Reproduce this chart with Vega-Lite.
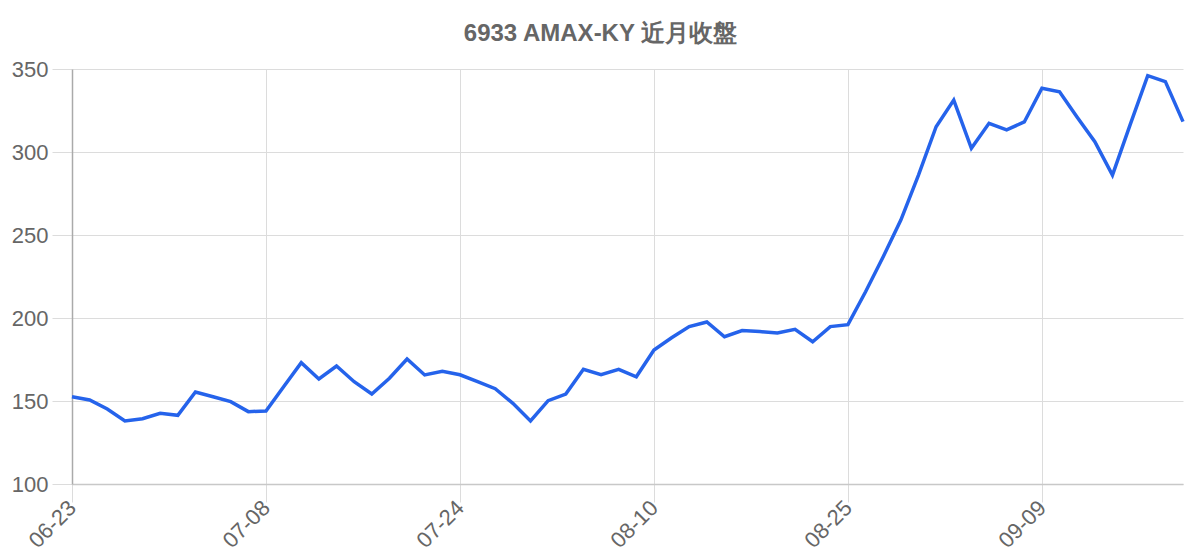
{
  "$schema": "https://vega.github.io/schema/vega-lite/v6.json",
  "width": 1111,
  "height": 415,
  "autosize": "none",
  "padding": {"left": 72, "top": 69, "right": 17, "bottom": 76},
  "background": "white",
  "title": {
    "text": "6933 AMAX-KY 近月收盤",
    "font": "Liberation Sans",
    "fontSize": 24,
    "fontWeight": "bold",
    "color": "#666666",
    "anchor": "middle",
    "frame": "group",
    "dx": -27,
    "offset": 12
  },
  "data": {
    "values": [
      {"date": "06-23", "close": 152.6},
      {"date": "06-24", "close": 150.6},
      {"date": "06-25", "close": 145.2},
      {"date": "06-26", "close": 138.0},
      {"date": "06-27", "close": 139.3},
      {"date": "06-30", "close": 142.6},
      {"date": "07-01", "close": 141.4},
      {"date": "07-02", "close": 155.4},
      {"date": "07-03", "close": 152.6},
      {"date": "07-04", "close": 149.6},
      {"date": "07-07", "close": 143.6},
      {"date": "07-08", "close": 144.0},
      {"date": "07-09", "close": 158.6},
      {"date": "07-10", "close": 173.1},
      {"date": "07-11", "close": 163.3},
      {"date": "07-14", "close": 171.1},
      {"date": "07-15", "close": 161.6},
      {"date": "07-17", "close": 154.2},
      {"date": "07-18", "close": 163.7},
      {"date": "07-21", "close": 175.3},
      {"date": "07-22", "close": 165.7},
      {"date": "07-23", "close": 167.9},
      {"date": "07-24", "close": 165.8},
      {"date": "07-25", "close": 161.6},
      {"date": "07-28", "close": 157.4},
      {"date": "07-29", "close": 148.6},
      {"date": "07-30", "close": 138.0},
      {"date": "07-31", "close": 150.2},
      {"date": "08-01", "close": 154.2},
      {"date": "08-04", "close": 169.1},
      {"date": "08-05", "close": 165.8},
      {"date": "08-06", "close": 169.1},
      {"date": "08-07", "close": 164.6},
      {"date": "08-10", "close": 180.7},
      {"date": "08-11", "close": 188.1},
      {"date": "08-12", "close": 194.8},
      {"date": "08-13", "close": 197.6},
      {"date": "08-14", "close": 188.7},
      {"date": "08-15", "close": 192.4},
      {"date": "08-18", "close": 191.8},
      {"date": "08-19", "close": 191.0},
      {"date": "08-20", "close": 193.2},
      {"date": "08-21", "close": 185.7},
      {"date": "08-22", "close": 194.8},
      {"date": "08-25", "close": 196.0},
      {"date": "08-26", "close": 215.8},
      {"date": "08-27", "close": 236.9},
      {"date": "08-28", "close": 259.0},
      {"date": "08-29", "close": 286.1},
      {"date": "09-01", "close": 315.2},
      {"date": "09-02", "close": 331.3},
      {"date": "09-03", "close": 302.2},
      {"date": "09-04", "close": 317.3},
      {"date": "09-05", "close": 313.3},
      {"date": "09-08", "close": 318.1},
      {"date": "09-09", "close": 338.4},
      {"date": "09-10", "close": 336.3},
      {"date": "09-11", "close": 320.9},
      {"date": "09-12", "close": 306.2},
      {"date": "09-15", "close": 286.1},
      {"date": "09-16", "close": 316.3},
      {"date": "09-17", "close": 346.0},
      {"date": "09-18", "close": 342.4},
      {"date": "09-19", "close": 318.3}
    ]
  },
  "mark": {
    "type": "line",
    "color": "#2563eb",
    "strokeWidth": 3.5,
    "strokeJoin": "miter"
  },
  "encoding": {
    "x": {
      "field": "date",
      "type": "ordinal",
      "sort": null,
      "scale": {"type": "point", "padding": 0},
      "axis": {
        "title": null,
        "values": ["06-23", "07-08", "07-24", "08-10", "08-25", "09-09"],
        "labelAngle": -45,
        "labelAlign": "right",
        "labelBaseline": "middle",
        "labelFont": "Liberation Sans",
        "labelFontSize": 22,
        "labelColor": "#666666",
        "labelPadding": 2,
        "tickSize": 18,
        "tickColor": "#dcdcdc",
        "grid": true,
        "gridColor": "#dcdcdc",
        "domainColor": "#c8c8c8",
        "domainWidth": 1.5
      }
    },
    "y": {
      "field": "close",
      "type": "quantitative",
      "scale": {"domain": [100, 350], "nice": false, "zero": false},
      "axis": {
        "title": null,
        "values": [100, 150, 200, 250, 300, 350],
        "labelFont": "Liberation Sans",
        "labelFontSize": 22,
        "labelColor": "#666666",
        "labelPadding": 4,
        "tickSize": 20,
        "tickColor": "#dcdcdc",
        "grid": true,
        "gridColor": "#dcdcdc",
        "domainColor": "#aaaaaa",
        "domainWidth": 1.5
      }
    }
  },
  "config": {
    "view": {"stroke": null}
  }
}
